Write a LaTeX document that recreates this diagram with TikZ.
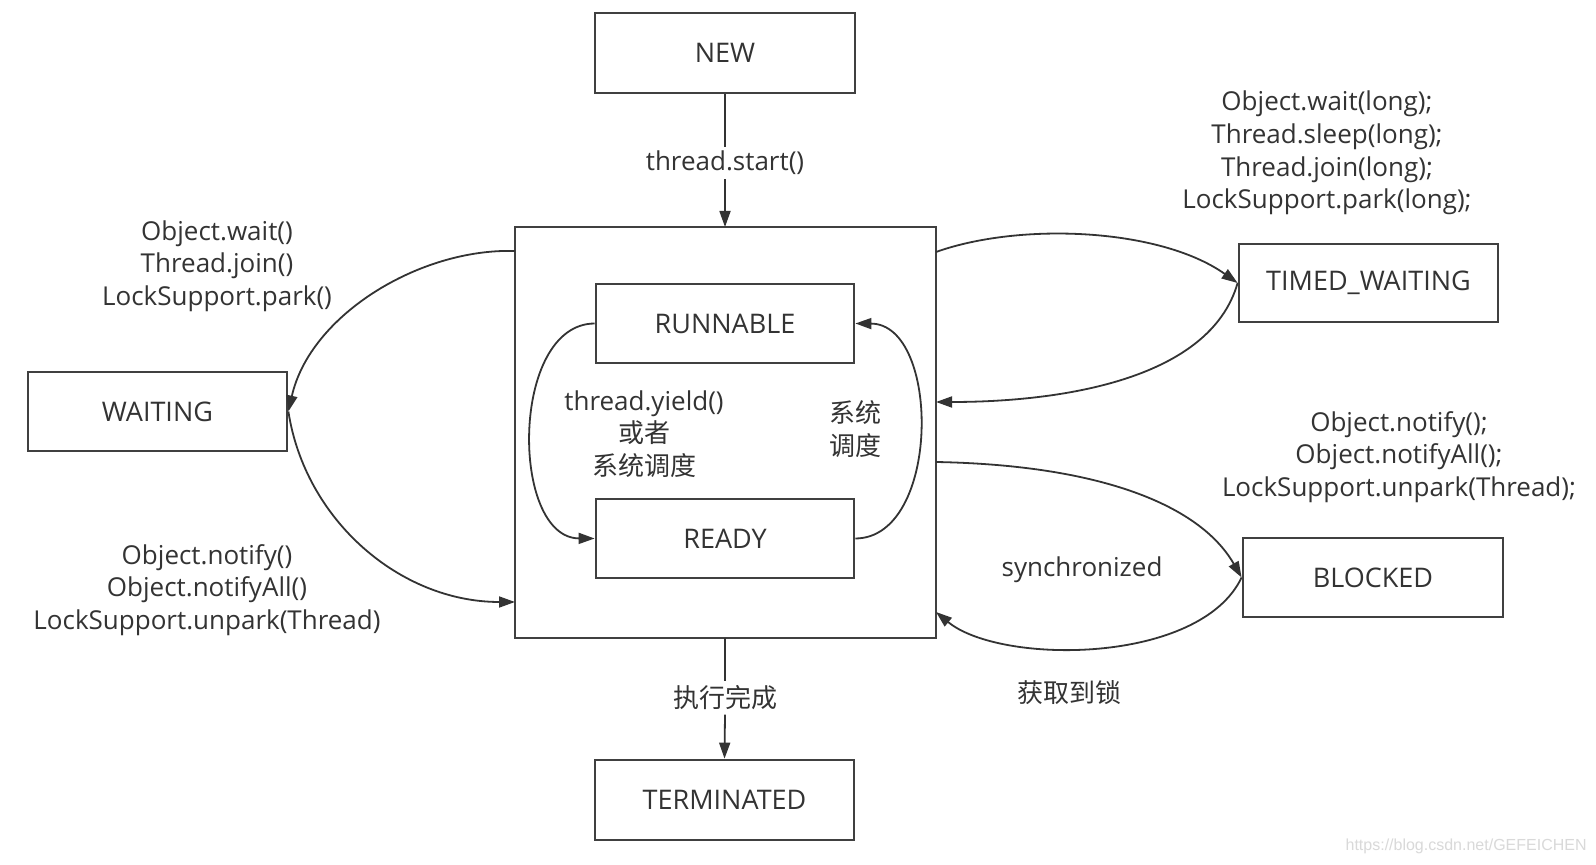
\documentclass[tikz,border=0pt]{standalone}
\usepackage{fontspec}
\setmainfont{Open Sans}
\newfontfamily\cjk{Noto Sans CJK SC}
\newfontfamily\wmfont{Liberation Sans}
\usetikzlibrary{arrows.meta}
\definecolor{ink}{HTML}{333333}
\definecolor{boxline}{HTML}{404040}
\begin{document}
\begin{tikzpicture}[x=0.5pt,y=-0.5pt,
  state/.style={draw=boxline,line width=1.4pt,inner sep=0pt,text=ink,font=\fontsize{13.5}{16}\selectfont},
  lbl/.style={text=ink,font=\fontsize{13}{16.3}\selectfont,align=center,inner sep=0pt},
  conn/.style={draw=ink,line width=0.9pt,-{Triangle[length=8pt,width=5.5pt]}},
  plain/.style={draw=ink,line width=0.9pt}]
\useasboundingbox[fill=white] (0,0) rectangle (1596,865);
% states
\node[state,minimum width=130pt,minimum height=40pt] (new) at (725,53) {NEW};
\node[draw=boxline,line width=1.4pt,minimum width=210.5pt,minimum height=205.5pt,inner sep=0pt] (big) at (725.5,432.5) {};
\node[state,minimum width=129pt,minimum height=39.5pt] (run) at (725,323.5) {RUNNABLE};
\node[state,minimum width=129pt,minimum height=39.5pt] (ready) at (725,538.5) {READY};
\node[state,minimum width=129.5pt,minimum height=39.5pt] (wait) at (157.5,411.5) {WAITING};
\node[state,minimum width=129.5pt,minimum height=39pt] (timed) at (1368.5,283) {TIMED\_WAITING};
\node[state,minimum width=130pt,minimum height=39.5pt] (blocked) at (1373,577.5) {BLOCKED};
\node[state,minimum width=129.5pt,minimum height=40pt] (term) at (724.5,800) {TERMINATED};
% coordinates on big box
\coordinate (bTop) at (725,227);
\coordinate (bBot) at (725,638);
\coordinate (bL1) at (515,251);
\coordinate (bL2) at (515,602);
\coordinate (bR1) at (936,252);
\coordinate (bR2) at (936,402);
\coordinate (bR3) at (936,462);
\coordinate (bR4) at (936,612);
% labels
\node[lbl,fill=white,inner sep=2pt] (lstart) at (725,163) {thread.start()};
\node[lbl,fill=white,inner sep=2pt] (lend) at (725,698) {\cjk 执行完成};
\draw[plain] (new.south) -- (lstart.north);
\draw[conn] (lstart.south) -- (bTop);
\draw[plain] (bBot) -- (lend.north);
\draw[conn] (lend.south) -- (term.north);
% waiting
\draw[conn] (bL1) .. controls (420,248) and (310,315) .. (wait.east);
\draw[conn] (wait.east) .. controls (305,520) and (400,602) .. (bL2);
\node[lbl] (lwait) at (217,266) {Object.wait()\\Thread.join()\\LockSupport.park()};
\node[lbl] (lnot) at (207,590) {Object.notify()\\Object.notifyAll()\\LockSupport.unpark(Thread)};
% timed waiting
\draw[conn] (bR1) .. controls (1020,222) and (1160,228) .. (timed.west);
\draw[conn] (timed.west) .. controls (1210,380) and (1060,402) .. (bR2);
\node[lbl] (ltimed) at (1327,153) {Object.wait(long);\\Thread.sleep(long);\\Thread.join(long);\\LockSupport.park(long);};
% blocked
\draw[conn] (bR3) .. controls (1100,465) and (1200,505) .. (blocked.west);
\draw[conn] (blocked.west) .. controls (1200,665) and (1000,665) .. (bR4);
\node[lbl] (lnotify) at (1399,457) {Object.notify();\\Object.notifyAll();\\LockSupport.unpark(Thread);};
\node[lbl] (lsync) at (1082,570) {synchronized};
\node[lbl] (llock) at (1069,693) {\cjk 获取到锁};
% inner loops
\draw[conn] (run.west) .. controls (510,324) and (510,538) .. (ready.west);
\draw[conn] (ready.east) .. controls (941,538) and (941,324) .. (run.east);
\node[lbl] (lyield) at (644,434) {thread.yield()\\{\cjk 或者}\\{\cjk 系统调度}};
\node[lbl] (lsys) at (855,429) {\cjk 系统\\\cjk 调度};
% watermark
\node[anchor=base east,inner sep=0pt,text=black!15,font=\wmfont\fontsize{8}{10}\selectfont] (wm) at (1587,850) {https://blog.csdn.net/GEFEICHEN};
\end{tikzpicture}
\end{document}
